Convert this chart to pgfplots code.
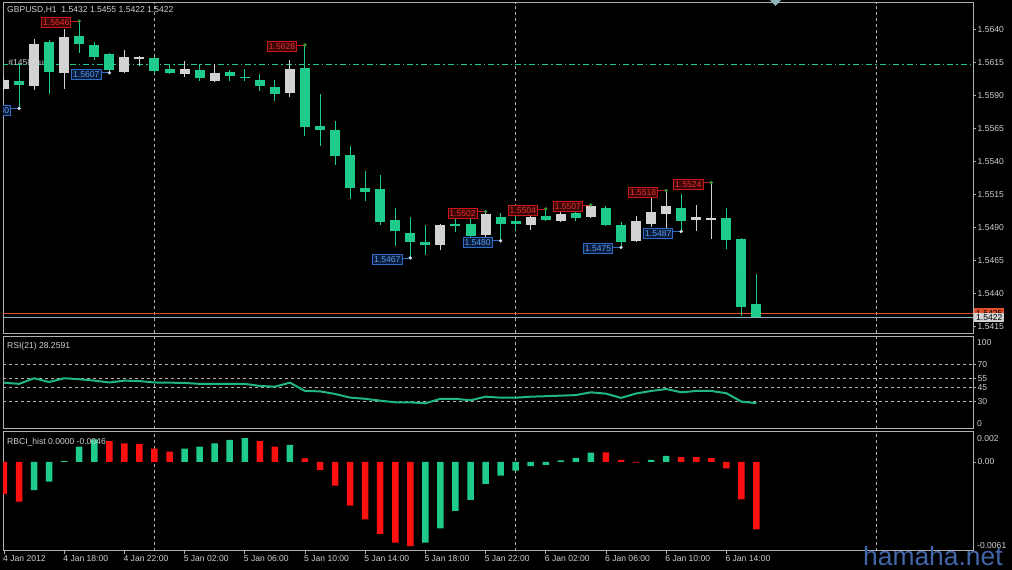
\documentclass[border=0pt]{standalone}
\usepackage{pgfplots}
\pgfplotsset{compat=1.18}
\usepackage{pgfplotstable}
\usepackage{fontspec}
\setmainfont{Liberation Sans}
\definecolor{cgreen}{HTML}{1ECB8B}
\definecolor{rsig}{HTML}{1FB585}
\definecolor{cgray}{HTML}{D2D2D2}
\definecolor{txt}{HTML}{CFCFCF}
\definecolor{frame}{HTML}{B0B0B0}
\definecolor{gridc}{HTML}{B4B4B4}
\definecolor{hib}{HTML}{C81818}
\definecolor{hit}{HTML}{E83030}
\definecolor{hif}{HTML}{3A0606}
\definecolor{lob}{HTML}{2D6DC8}
\definecolor{lot}{HTML}{5A9BEA}
\definecolor{lof}{HTML}{0A1C3C}
\definecolor{hid}{HTML}{3C9A3C}
\definecolor{lod}{HTML}{D0DCEC}
\definecolor{orl}{HTML}{E0502A}
\definecolor{bidl}{HTML}{8FB4B8}
\definecolor{wm}{HTML}{4266A8}
\definecolor{bred}{HTML}{FF1010}
\newcommand\lbl{\fontsize{8.6}{10}\selectfont}

% bullish (grey) candles
\pgfplotstableread{
k o h l c
0 1.5595 1.5604 1.5593 1.5602
2 1.5597 1.5633 1.5594 1.5629
4 1.5607 1.5640 1.5595 1.5634
8 1.5608 1.5624 1.5607 1.5619
9 1.5618 1.5620 1.5612 1.5619
12 1.5606 1.5616 1.5604 1.5610
14 1.5601 1.5614 1.5600 1.5607
19 1.5592 1.5617 1.5589 1.5610
29 1.5477 1.5493 1.5473 1.5492
32 1.5484 1.5502 1.5483 1.5500
35 1.5492 1.5503 1.5488 1.5498
37 1.5495 1.5502 1.5494 1.5500
39 1.5498 1.5507 1.5497 1.5506
42 1.5480 1.5499 1.5479 1.5495
43 1.5493 1.5516 1.5490 1.5502
44 1.5500 1.5518 1.5488 1.5506
46 1.5496 1.5507 1.5487 1.5498
47 1.5496 1.5524 1.5481 1.5497
}\upc

% bearish (green) candles
\pgfplotstableread{
k o h l c
1 1.5601 1.5613 1.5580 1.5598
3 1.5630 1.5632 1.5591 1.5608
5 1.5635 1.5646 1.5622 1.5629
6 1.5628 1.5630 1.5617 1.5619
7 1.5621 1.5622 1.5607 1.5609
10 1.5618 1.5619 1.5607 1.5608
11 1.5610 1.5613 1.5606 1.5607
13 1.5609 1.5614 1.5601 1.5603
15 1.5608 1.5609 1.5601 1.5605
16 1.5604 1.5610 1.5601 1.5603
17 1.5602 1.5606 1.5593 1.5597
18 1.5596 1.5602 1.5586 1.5591
20 1.5611 1.5628 1.5559 1.5566
21 1.5567 1.5591 1.5552 1.5564
22 1.5564 1.5571 1.5537 1.5544
23 1.5545 1.5552 1.5512 1.5520
24 1.5520 1.5533 1.5510 1.5517
25 1.5519 1.5530 1.5492 1.5494
26 1.5496 1.5505 1.5476 1.5487
27 1.5486 1.5498 1.5467 1.5479
28 1.5479 1.5492 1.5469 1.5477
30 1.5493 1.5498 1.5487 1.5491
31 1.5493 1.5500 1.5481 1.5484
33 1.5498 1.5501 1.5480 1.5493
34 1.5495 1.5501 1.5488 1.5493
36 1.5499 1.5504 1.5495 1.5496
38 1.5501 1.5502 1.5495 1.5497
40 1.5505 1.5506 1.5491 1.5492
41 1.5492 1.5494 1.5475 1.5479
45 1.5505 1.5515 1.5487 1.5495
48 1.5497 1.5505 1.5474 1.5481
49 1.5481 1.5482 1.5423 1.5430
50 1.5432 1.5455 1.5422 1.5422
}\dnc

\pgfplotstableread{
k v
0 50.3
1 49.0
2 55.0
3 51.0
4 55.0
5 54.0
6 52.5
7 50.5
8 52.5
9 52.0
10 50.5
11 50.3
12 50.0
13 49.0
14 49.0
15 49.0
16 49.0
17 46.8
18 46.0
19 50.3
20 41.4
21 41.0
22 38.2
23 34.3
24 33.0
25 31.0
26 29.3
27 29.2
28 28.2
29 33.0
30 33.0
31 31.4
32 35.3
33 34.2
34 34.2
35 35.3
36 35.8
37 36.4
38 37.0
39 40.0
40 38.5
41 34.0
42 38.7
43 41.4
44 43.5
45 40.0
46 41.4
47 41.4
48 39.0
49 30.0
50 28.26
}\rsi

\pgfplotsset{
  mtaxis/.style={scale only axis, width=970bp, xmin=-0.066, xmax=64.39,
    axis background/.style={fill=black},
    axis line style={draw=frame, line width=0.8bp},
    xtick={10,34,58}, xticklabels={}, xmajorgrids,
    grid style={draw=gridc, line width=0.8bp, dash pattern=on 3bp off 3bp},
    ytick pos=right, yticklabel pos=right,
    tick align=outside, major tick length=3bp,
    xtick style={draw=none},
    ytick style={draw=frame, line width=0.8bp},
    yticklabel style={font=\lbl, text=txt, anchor=west, inner sep=0pt, xshift=1.5bp},
    scaled ticks=false,
    /pgf/number format/assume math mode=true,
  },
  candle/.style={only marks, mark=*, mark size=0pt, mark options={draw=none, fill=none}, forget plot},
}

\begin{document}
\begin{tikzpicture}[x=1bp,y=1bp]
\useasboundingbox (0,0) rectangle (1012,570);
\fill[black] (0,0) rectangle (1012,570);

% ---------------- main price panel ----------------
\begin{axis}[mtaxis, at={(3bp,236.7bp)}, anchor=south west, height=330.6bp,
  ymin=1.5410, ymax=1.5660,
  ytick={1.5415,1.5440,1.5465,1.5490,1.5515,1.5540,1.5565,1.5590,1.5615,1.5640},
  yticklabels={1.5415,1.5440,1.5465,1.5490,1.5515,1.5540,1.5565,1.5590,1.5615,1.5640}]
\node[anchor=west, text=txt, font=\lbl, inner sep=0pt] at (axis cs:0.27,1.56140) {\#1458 buys};
\addplot[cgreen, line width=0.9bp, dash pattern=on 6bp off 3bp on 1.5bp off 3bp] coordinates {(-1,1.5613) (66,1.5613)};
\addplot[orl, line width=0.9bp] coordinates {(-1,1.5425) (66,1.5425)};
\addplot[bidl, line width=0.9bp] coordinates {(-1,1.5422) (66,1.5422)};
% wicks & bodies
\addplot[candle, error bars/.cd, y dir=both, y explicit, error mark=none,
  error bar style={draw=cgray, line width=1bp}]
  table[x=k, y expr={(\thisrow{h}+\thisrow{l})/2}, y error expr={(\thisrow{h}-\thisrow{l})/2}] {\upc};
\addplot[candle, error bars/.cd, y dir=both, y explicit, error mark=none,
  error bar style={draw=cgray, line width=10bp}]
  table[x=k, y expr={(\thisrow{o}+\thisrow{c})/2}, y error expr={abs(\thisrow{c}-\thisrow{o})/2}] {\upc};
\addplot[candle, error bars/.cd, y dir=both, y explicit, error mark=none,
  error bar style={draw=cgreen, line width=1bp}]
  table[x=k, y expr={(\thisrow{h}+\thisrow{l})/2}, y error expr={(\thisrow{h}-\thisrow{l})/2}] {\dnc};
\addplot[candle, error bars/.cd, y dir=both, y explicit, error mark=none,
  error bar style={draw=cgreen, line width=10bp}]
  table[x=k, y expr={(\thisrow{o}+\thisrow{c})/2}, y error expr={abs(\thisrow{o}-\thisrow{c})/2}] {\dnc};
% high markers
\addplot[only marks, mark=*, mark size=1.5bp, mark options={draw=hid, fill=hid},
  point meta=explicit symbolic, nodes near coords,
  nodes near coords style={anchor=east, xshift=-8bp, yshift=-1.5bp, draw=hib, fill=hif, text=hit,
    font=\lbl, inner xsep=1.5bp, inner ysep=2bp, text height=6.1bp, text depth=0pt, line width=0.8bp},
  error bars/.cd, x dir=minus, x fixed=0.55, error mark=none, error bar style={draw=hib, line width=0.8bp}]
  coordinates {(5,1.5646) [1.5646] (20,1.5628) [1.5628] (32,1.5502) [1.5502] (36,1.5504) [1.5504]
    (39,1.5507) [1.5507] (44,1.5518) [1.5518] (47,1.5524) [1.5524]};
% low markers
\addplot[only marks, mark=*, mark size=1.5bp, mark options={draw=lod, fill=lod},
  point meta=explicit symbolic, nodes near coords,
  nodes near coords style={anchor=east, xshift=-8bp, yshift=-1.5bp, draw=lob, fill=lof, text=lot,
    font=\lbl, inner xsep=1.5bp, inner ysep=2bp, text height=6.1bp, text depth=0pt, line width=0.8bp},
  error bars/.cd, x dir=minus, x fixed=0.55, error mark=none, error bar style={draw=lob, line width=0.8bp}]
  coordinates {(1,1.5580) [1.5580] (7,1.5607) [1.5607] (27,1.5467) [1.5467] (33,1.5480) [1.5480]
    (41,1.5475) [1.5475] (45,1.5487) [1.5487]};
\end{axis}

% ---------------- RSI panel ----------------
\begin{axis}[mtaxis, at={(3bp,141.3bp)}, anchor=south west, height=92.7bp,
  ymin=1, ymax=100.3, ytick={30,45,55,70}, yticklabels={30,45,55,70}, ymajorgrids]
\addplot[rsig, line width=2bp] table[x=k, y=v] {\rsi};
\end{axis}

% ---------------- RBCI panel ----------------
\begin{axis}[mtaxis, at={(3bp,19.3bp)}, anchor=south west, height=119bp,
  ymin=-0.0061, ymax=0.00208, ytick={0}, yticklabels={0.00},
  xtick={0,4,...,48},
  xticklabels={4 Jan 2012,4 Jan 18:00,4 Jan 22:00,5 Jan 02:00,5 Jan 06:00,5 Jan 10:00,5 Jan 14:00,
    5 Jan 18:00,5 Jan 22:00,6 Jan 02:00,6 Jan 06:00,6 Jan 10:00,6 Jan 14:00},
  xmajorgrids=false, xtick pos=bottom,
  extra x ticks={10,34,58}, extra x tick labels={}, extra x tick style={grid=major, major tick length=0pt},
  xtick style={draw=frame, line width=0.8bp},
  xticklabel style={font=\lbl, text=txt, anchor=north west, inner sep=0pt, xshift=-1bp, yshift=-2bp},
  ybar, bar width=6.5bp, bar shift=0pt]
\addplot[draw=none, fill=bred] coordinates {
 (0,-0.0022) (1,-0.00273) (7,0.00144) (8,0.00128) (9,0.00124) (10,0.00092) (11,0.00071)
 (17,0.00144) (18,0.00105) (20,0.00025) (21,-0.00055) (22,-0.00163) (23,-0.0030) (24,-0.00394)
 (25,-0.00495) (26,-0.00555) (27,-0.00578) (40,0.00066) (41,0.00014) (42,-0.00004) (45,0.00034)
 (46,0.00034) (47,0.00028) (48,-0.00044) (49,-0.00257) (50,-0.00463)};
\addplot[draw=none, fill=cgreen] coordinates {
 (2,-0.00193) (3,-0.00135) (4,0.00005) (5,0.00105) (6,0.00156) (12,0.00092) (13,0.00105)
 (14,0.00128) (15,0.00151) (16,0.00163) (19,0.00117) (28,-0.00555) (29,-0.00456) (30,-0.00337)
 (31,-0.00261) (32,-0.00151) (33,-0.00094) (34,-0.0006) (35,-0.00028) (36,-0.0002) (37,0.0001)
 (38,0.00028) (39,0.00064) (43,0.00014) (44,0.00041)};
\end{axis}

% left strip cover
\fill[black] (0,0) rectangle (2.6,570);

% texts
\node[anchor=west, text=txt, font=\lbl, inner sep=0pt] at (7,560) {GBPUSD,H1\ \ 1.5432 1.5455 1.5422 1.5422};
\node[anchor=west, text=txt, font=\lbl, inner sep=0pt] at (7,224) {RSI(21) 28.2591};
\node[anchor=west, text=txt, font=\lbl, inner sep=0pt] at (7,128) {RBCI\_hist 0.0000 -0.0046};
\node[anchor=west, text=txt, font=\lbl, inner sep=0pt] at (977,227.3) {100};
\node[anchor=west, text=txt, font=\lbl, inner sep=0pt] at (977,146.7) {0};
\node[anchor=west, text=txt, font=\lbl, inner sep=0pt] at (977,131.7) {0.002};
\node[anchor=west, text=txt, font=\lbl, inner sep=0pt] at (977,24.3) {-0.0061};
% price boxes
\node[anchor=west, fill=orl, text=black, font=\lbl, inner xsep=2bp, inner ysep=1.5bp, text height=6.1bp, text depth=0pt] at (974,257) {1.5425};
\node[anchor=west, fill=cgray, text=black, font=\lbl, inner xsep=2bp, inner ysep=1.5bp, text height=6.1bp, text depth=0pt] at (974,252.3) {1.5422};
% shift marker
\fill[bidl] (770,570) -- (781,570) -- (775.5,564) -- cycle;
% watermark
\node[anchor=base west, text=wm, font=\fontsize{26.5}{26.5}\selectfont, inner sep=0pt] at (863,4) {hamaha.net};
\end{tikzpicture}
\end{document}
